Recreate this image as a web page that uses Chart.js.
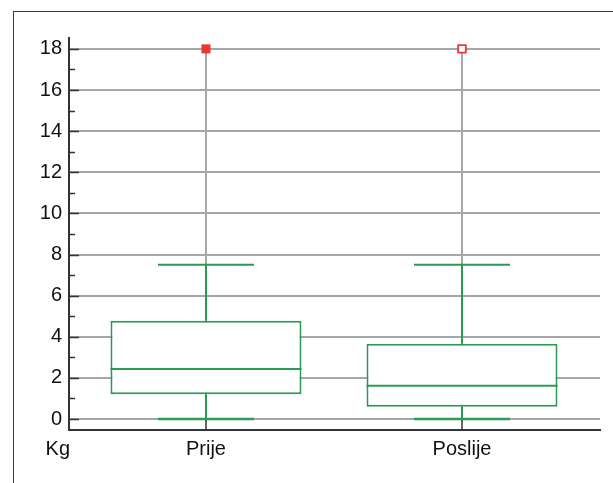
<!DOCTYPE html>
<html>
<head>
<meta charset="utf-8">
<script src="https://cdn.jsdelivr.net/npm/chart.js@4.4.0/dist/chart.umd.min.js"></script>
<style>
  html, body { margin: 0; padding: 0; background: #fff; }
  .wrap { position: relative; width: 613px; height: 483px; overflow: hidden; }
  .frame {
    position: absolute; left: 13px; top: 11px; right: -2px; bottom: -2px;
    border-left: 1.5px solid #1d3c78; border-top: 1.5px solid #1d3c78;
  }
  canvas { position: absolute; left: 0; top: 0; }
</style>
</head>
<body>
<div class="wrap">
  <div class="frame"></div>
  <canvas id="chart" width="613" height="483"></canvas>
</div>
<script>
// box plot values (Kg)
const categories = ["Prije", "Poslije"];
const whiskerLow = [0, 0];
const q1 = [1.2, 0.6];
const median = [2.43, 1.62];
const q3 = [4.78, 3.66];
const whiskerHigh = [7.5, 7.5];
const outliers = [18, 18];
const outlierFilled = [true, false];
const yTicks = [0, 2, 4, 6, 8, 10, 12, 14, 16, 18];

const GREEN = "#2a9a55";
const RED = "#ee3636";
const GRID = "#a6a6a6";
const AXIS = "#333333";
const TEXT = "#111";
const FONT = { family: "'Liberation Sans', Arial, sans-serif", size: 20 };
const BOX_HALF = 0.373; // half box width, in x units
const CAP_HALF = 0.1875;

// a plain line segment drawn through the scales
const seg = (x0, y0, x1, y1, color, width, order) => ({
  type: "line",
  data: [{ x: x0, y: y0 }, { x: x1, y: y1 }],
  borderColor: color,
  borderWidth: width,
  pointRadius: 0,
  fill: false,
  tension: 0,
  order: order,
});

const datasets = [];

categories.forEach((c, i) => {
  // grey spine from lowest value to outlier
  datasets.push(seg(i, whiskerLow[i], i, outliers[i], GRID, 2, 10));
  // whiskers + caps
  datasets.push(seg(i, q3[i], i, whiskerHigh[i], GREEN, 2, 3));
  datasets.push(seg(i, whiskerLow[i], i, q1[i], GREEN, 2, 3));
  datasets.push(seg(i - CAP_HALF, whiskerHigh[i], i + CAP_HALF, whiskerHigh[i], GREEN, 2, 3));
  datasets.push(seg(i - CAP_HALF, whiskerLow[i], i + CAP_HALF, whiskerLow[i], GREEN, 2.5, 3));
  // median
  datasets.push(seg(i - BOX_HALF, median[i], i + BOX_HALF, median[i], GREEN, 2, 2));
  // outlier
  datasets.push({
    type: "scatter",
    data: [{ x: i, y: outliers[i] }],
    pointStyle: "rect",
    pointRadius: outlierFilled[i] ? 6.4 : 5.4,
    pointBackgroundColor: outlierFilled[i] ? RED : "#fff",
    pointBorderColor: RED,
    pointBorderWidth: outlierFilled[i] ? 0 : 1.8,
    order: 1,
  });
});

// boxes q1..q3
datasets.push({
  type: "bar",
  data: categories.map((c, i) => ({ x: i, y: [q1[i], q3[i]] })),
  backgroundColor: "#fff",
  borderColor: GREEN,
  borderWidth: 2,
  borderSkipped: false,
  categoryPercentage: 1,
  barPercentage: BOX_HALF * 2,
  order: 5,
});

const extras = {
  id: "extras",
  afterDatasetsDraw(chart) {
    const { ctx, chartArea, scales } = chart;
    const x = scales.x, y = scales.y;
    ctx.save();
    ctx.strokeStyle = AXIS;
    ctx.lineWidth = 1.5;
    // inward tick marks on y: major at labels, minor between them
    const minor = yTicks.slice(1).map((v, i) => (v + yTicks[i]) / 2);
    yTicks.forEach((v) => {
      const py = Math.round(y.getPixelForValue(v)) + 0.5;
      ctx.beginPath();
      ctx.moveTo(chartArea.left, py);
      ctx.lineTo(chartArea.left + 10, py);
      ctx.stroke();
    });
    minor.forEach((v) => {
      const py = Math.round(y.getPixelForValue(v)) + 0.5;
      ctx.beginPath();
      ctx.moveTo(chartArea.left, py);
      ctx.lineTo(chartArea.left + 6, py);
      ctx.stroke();
    });
    categories.forEach((c, i) => {
      const px = x.getPixelForValue(i);
      ctx.beginPath();
      ctx.moveTo(px, chartArea.bottom);
      ctx.lineTo(px, chartArea.bottom - 10);
      ctx.stroke();
    });
    // unit label
    ctx.fillStyle = TEXT;
    ctx.font = FONT.size + "px " + FONT.family;
    ctx.textAlign = "right";
    ctx.textBaseline = "alphabetic";
    ctx.fillText("Kg", chartArea.left + 1, chartArea.bottom + 25);
    ctx.restore();
  },
};

new Chart(document.getElementById("chart"), {
  type: "bar",
  data: { datasets: datasets },
  options: {
    responsive: false,
    animation: false,
    events: [],
    layout: { padding: { top: 38, right: 13, left: 0, bottom: 0 } },
    plugins: { legend: { display: false }, tooltip: { enabled: false } },
    scales: {
      x: {
        type: "linear",
        min: -0.535,
        max: 1.539,
        offset: false,
        grid: { display: false, drawTicks: false },
        border: { display: true, color: AXIS, width: 2 },
        afterBuildTicks: (scale) => {
          scale.ticks = categories.map((c, i) => ({ value: i }));
        },
        afterFit: (scale) => { scale.height = 53; },
        ticks: {
          color: TEXT,
          font: FONT,
          padding: 7,
          maxRotation: 0,
          callback: (v) => categories[v],
        },
      },
      y: {
        type: "linear",
        min: -0.535,
        max: 18.53,
        grid: { color: GRID, lineWidth: 2, drawTicks: false },
        border: { display: true, color: AXIS, width: 2 },
        afterBuildTicks: (scale) => {
          scale.ticks = yTicks.map((v) => ({ value: v }));
        },
        afterFit: (scale) => { scale.width = 69; },
        ticks: { color: TEXT, font: FONT, padding: 7 },
      },
    },
  },
  plugins: [extras],
});
</script>
</body>
</html>
